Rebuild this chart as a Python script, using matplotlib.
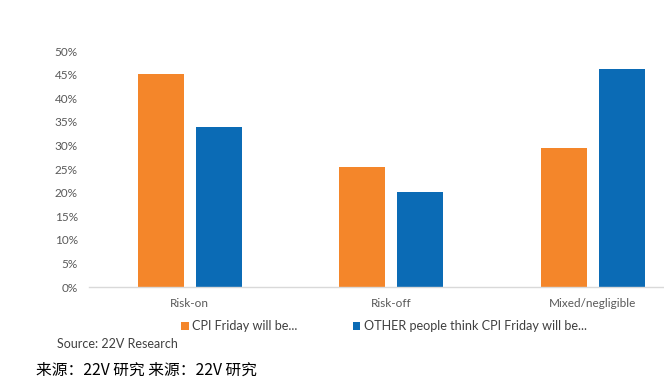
import matplotlib.pyplot as plt
import numpy as np

# ---- data ----
categories = ['Risk-on', 'Risk-off', 'Mixed/negligible']
cpi_friday = [45.1, 25.4, 29.4]
other_people = [34.0, 20.1, 46.2]
series_names = ['CPI Friday will be...', 'OTHER people think CPI Friday will be...']
y_ticks = [0, 5, 10, 15, 20, 25, 30, 35, 40, 45, 50]

ORANGE = '#F4862A'
BLUE = '#0B6BB5'
GREY = '#595959'

plt.rcParams['font.family'] = ['Lato', 'DejaVu Sans']

fig = plt.figure(figsize=(6.64, 3.89), dpi=100)
# axes runs past the right edge, the source image was cropped there
ax = fig.add_axes([89 / 664, 102 / 389, 604.5 / 664, 236 / 389])

x = np.arange(len(categories))
w = 0.228
off = 0.143
b1 = ax.bar(x - off, cpi_friday, w, color=ORANGE, label=series_names[0])
b2 = ax.bar(x + off, other_people, w, color=BLUE, label=series_names[1])

ax.set_xlim(-0.5, 2.5)
ax.set_ylim(0, 50)
ax.set_yticks(y_ticks)
ax.set_yticklabels([f'{t}%' for t in y_ticks], color=GREY, fontsize=8.5)
ax.set_xticks(x)
ax.set_xticklabels(categories, color=GREY, fontsize=8.5)
ax.tick_params(axis='both', length=0)
ax.tick_params(axis='y', pad=8)
ax.tick_params(axis='x', pad=8)

for side in ['top', 'right', 'left']:
    ax.spines[side].set_visible(False)
ax.spines['bottom'].set_color('#D9D9D9')
ax.spines['bottom'].set_linewidth(1.0)

leg = fig.legend(handles=[b1, b2], loc='center left',
                 bbox_to_anchor=(176 / 664, 1 - 326 / 389), ncol=2,
                 frameon=False, fontsize=9.1, handlelength=0.6, handleheight=0.6,
                 handletextpad=0.25, columnspacing=4.4, borderaxespad=0)
for t in leg.get_texts():
    t.set_color('#404040')

fig.text(57 / 664, 1 - 344 / 389, 'Source: 22V Research', fontsize=9,
         color='#404040', va='center', ha='left')
fig.text(36 / 664, 1 - 370 / 389, '来源：22V 研究 来源：22V 研究', fontsize=11.3,
         color='black', va='center', ha='left',
         family=['Noto Sans CJK SC', 'DejaVu Sans'])

fig.savefig('out.png', dpi=100, facecolor='white')
